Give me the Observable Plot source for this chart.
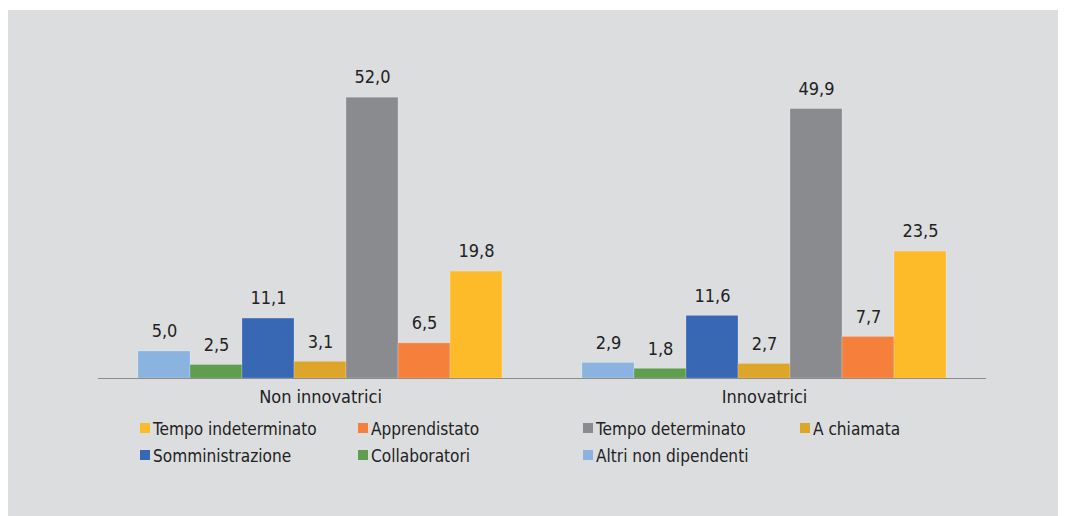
<!DOCTYPE html>
<html>
<head>
<meta charset="utf-8">
<script src="https://cdn.jsdelivr.net/npm/d3@7"></script>
<script src="https://cdn.jsdelivr.net/npm/@observablehq/plot@0.6"></script>
<style>
  html, body { margin: 0; padding: 0; background: #ffffff; }
  #panel { position: absolute; left: 8px; top: 10px; width: 1050px; height: 506px; background: #dcdddf; }
  #chart svg { display: block; }
  #legend { position: absolute; left: 0; top: 400px; width: 1050px; height: 80px; font-family: "Liberation Sans Narrow", "DejaVu Sans Condensed", sans-serif; font-size: 18px; color: #222; }
  .item { position: absolute; display: flex; align-items: center; white-space: nowrap; }
  .sw { width: 10px; height: 10px; margin-right: 3px; flex: none; }
  .tx { display: inline-block; transform: scaleX(0.95); transform-origin: left center; }
</style>
</head>
<body>
<div id="panel">
  <div id="chart"></div>
  <div id="legend"></div>
</div>
<script>
const categories = ["Non innovatrici", "Innovatrici"];
const series = ["Altri non dipendenti", "Collaboratori", "Somministrazione", "A chiamata", "Tempo determinato", "Apprendistato", "Tempo indeterminato"];
const nonInnovatrici = [5.0, 2.5, 11.1, 3.1, 52.0, 6.5, 19.8];
const innovatrici = [2.9, 1.8, 11.6, 2.7, 49.9, 7.7, 23.5];
const colors = ["#8ab3df", "#5f9e4f", "#3867b4", "#dda52a", "#8a8b8f", "#f4803c", "#fdbb2a"];
const legendOrder = ["Tempo indeterminato", "Apprendistato", "Tempo determinato", "A chiamata", "Somministrazione", "Collaboratori", "Altri non dipendenti"];

const data = [];
series.forEach((s, i) => {
  data.push({cat: categories[0], serie: s, value: nonInnovatrici[i]});
  data.push({cat: categories[1], serie: s, value: innovatrici[i]});
});
const fmt = v => v.toFixed(1).replace(".", ",");

const chart = Plot.plot({
  width: 1050,
  height: 400,
  marginLeft: 90,
  marginRight: 72,
  marginTop: 44,
  marginBottom: 32,
  style: {background: "transparent", fontFamily: "'Liberation Sans Narrow', 'DejaVu Sans Condensed', sans-serif", fontSize: "18px", color: "#222"},
  fx: {domain: categories, paddingInner: 0, paddingOuter: 0, label: null},
  x: {domain: series, paddingInner: 0, paddingOuter: 0.75, axis: null},
  y: {domain: [0, 60], axis: null},
  color: {domain: series, range: colors},
  marks: [
    Plot.barY(data, {fx: "cat", x: "serie", y: "value", fill: "serie", stroke: "#ffffff", strokeOpacity: 0.35, strokeWidth: 0.6, inset: 0}),
    Plot.text(data, {fx: "cat", x: "serie", y: "value", text: d => fmt(d.value), dy: -20, fill: "#222", fontSize: 18, style: "letter-spacing:0.6px"}),
    Plot.ruleY([0], {stroke: "#8c8c8c", strokeWidth: 1}),
    Plot.axisFx({anchor: "bottom", tickSize: 0, tickPadding: 12, label: null, fontSize: 18})
  ]
});
document.getElementById("chart").appendChild(chart);

const legend = document.getElementById("legend");
const colX = [132, 350, 575, 792];
const rowY = [18, 45];
legendOrder.forEach((s, i) => {
  const el = document.createElement("div");
  el.className = "item";
  el.style.left = colX[i % 4] + "px";
  el.style.top = (rowY[Math.floor(i / 4)] - 11) + "px";
  el.style.height = "22px";
  const sw = document.createElement("div");
  sw.className = "sw";
  sw.style.background = colors[series.indexOf(s)];
  const tx = document.createElement("span");
  tx.className = "tx";
  tx.textContent = s;
  el.appendChild(sw);
  el.appendChild(tx);
  legend.appendChild(el);
});
</script>
</body>
</html>
